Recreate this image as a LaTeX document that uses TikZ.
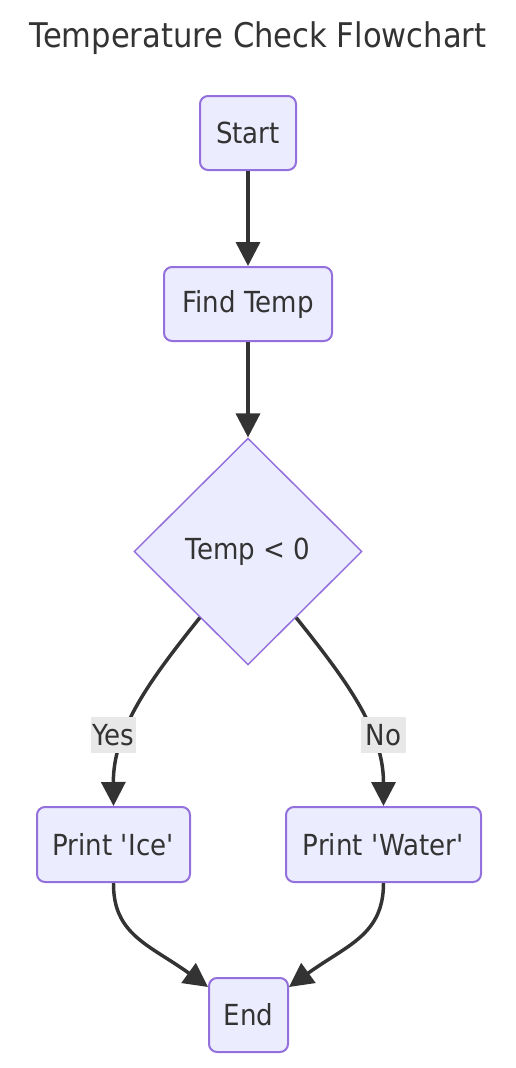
\documentclass[tikz,border=0pt]{standalone}
\usepackage{fontspec}
\setmainfont{DejaVu Sans}[FakeStretch=0.9]
\usetikzlibrary{shapes.geometric,arrows.meta,calc}
\definecolor{nodefill}{HTML}{ECECFF}
\definecolor{nodeline}{HTML}{9370DB}
\definecolor{ink}{HTML}{333333}
\definecolor{lblbg}{HTML}{E8E8E8}
\tikzset{
  box/.style={draw=nodeline, fill=nodefill, line width=1.5pt, rounded corners=6pt,
    inner sep=0pt, text=ink, font=\fontsize{21.75pt}{26pt}\selectfont},
  decide/.style={diamond, aspect=1, draw=nodeline, fill=nodefill, line width=1.1pt,
    inner sep=0pt, text=ink, font=\fontsize{21.75pt}{26pt}\selectfont},
  lbl/.style={fill=lblbg, inner sep=0pt, text=ink, font=\fontsize{21.75pt}{26pt}\selectfont,
    minimum width=33.75pt, minimum height=27pt},
  flow/.style={draw=ink, line width=2.6pt, -{Triangle[length=18pt,width=18pt]}},
}
\begin{document}
\begin{tikzpicture}[x=0.75pt,y=-0.75pt]
\useasboundingbox (0,0) rectangle (516,1068);
\node[text=ink, font=\fontsize{25.5pt}{30pt}\selectfont] (title) at (258,38) {Temperature Check Flowchart};
\node[box, minimum width=72pt, minimum height=55.5pt] (start) at (248,133) {Start};
\node[box, minimum width=126pt, minimum height=55.5pt] (find) at (248,304) {Find Temp};
\node[decide, minimum width=171pt, minimum height=170pt] (dec) at (248,551.5) {Temp < 0};
\node[box, minimum width=114.75pt, minimum height=56.25pt] (ice) at (113.5,844.5) {Print \textquotesingle Ice\textquotesingle};
\node[box, minimum width=146.25pt, minimum height=56.25pt] (water) at (383.5,844.5) {Print \textquotesingle Water\textquotesingle};
\node[box, minimum width=59.25pt, minimum height=55.5pt] (end) at (248.5,1015) {End};

\draw[flow] (start.south) -- (find.north);
\draw[flow] (find.south) -- (dec.north);
\draw[flow] ($(dec.west)!0.58!(dec.south)$) .. controls (150,680) and (113,730) .. (ice.north);
\draw[flow] ($(dec.east)!0.58!(dec.south)$) .. controls (346,680) and (383.5,730) .. (water.north);
\draw[flow] (ice.south) .. controls (113,935) and (150,945) .. ($(end.north west)+(0,10)$);
\draw[flow] (water.south) .. controls (383.5,935) and (347,945) .. ($(end.north east)+(0,10)$);

\node[lbl] (yes) at (113.5,735) {Yes};
\node[lbl] (no) at (383.5,735) {No};
\end{tikzpicture}
\end{document}
